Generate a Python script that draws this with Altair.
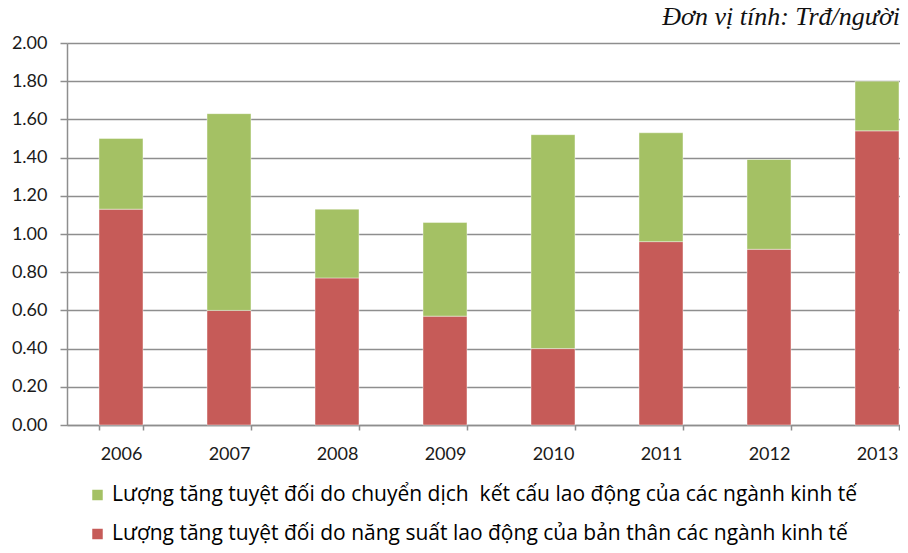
import altair as alt
import pandas as pd

years = ["2006", "2007", "2008", "2009", "2010", "2011", "2012", "2013"]
red_vals = [1.13, 0.60, 0.77, 0.57, 0.40, 0.96, 0.92, 1.54]
green_vals = [0.37, 1.03, 0.36, 0.49, 1.12, 0.57, 0.47, 0.26]
series = [
    "Lượng tăng tuyệt đối do chuyển dịch\u00a0 kết cấu lao động của các ngành kinh tế",
    "Lượng tăng tuyệt đối do năng suất lao động của bản thân các ngành kinh tế",
]
colors = ["#A4C164", "#C65B58"]
y_ticks = [0.0, 0.2, 0.4, 0.6, 0.8, 1.0, 1.2, 1.4, 1.6, 1.8, 2.0]
unit_text = ["Đơn vị tính: Trđ/người"]

rows = []
for i, yr in enumerate(years):
    rows.append({"year": yr, "value": red_vals[i], "series": series[1], "ord": 0})
    rows.append({"year": yr, "value": green_vals[i], "series": series[0], "ord": 1})
df = pd.DataFrame(rows)

grid_col = "#8E8E8E"

bars = alt.Chart(df).mark_bar(stroke="#ffffff", strokeWidth=0.8, strokeOpacity=0.5).encode(
    x=alt.X(
        "year:N",
        sort=years,
        scale=alt.Scale(range=[0, 864], paddingInner=0.593, paddingOuter=0.2965),
        axis=alt.Axis(
            title=None, labelAngle=0, tickBand="extent", grid=False,
            domainColor=grid_col, domainWidth=1.5, tickColor=grid_col, tickWidth=1.5,
            tickSize=5, labelPadding=15, labelFont="Lato", labelFontSize=18,
            labelColor="#1a1a1a",
        ),
    ),
    y=alt.Y(
        "value:Q",
        stack="zero",
        scale=alt.Scale(domain=[0, 2], nice=False),
        axis=alt.Axis(
            title=None, values=y_ticks, format=".2f", grid=True, gridColor=grid_col,
            gridWidth=1.5, domainColor=grid_col, domainWidth=1.5, tickColor=grid_col,
            tickWidth=1.5, tickSize=7, labelPadding=13, labelFont="Lato",
            labelFontSize=18, labelColor="#1a1a1a",
        ),
    ),
    color=alt.Color(
        "series:N",
        scale=alt.Scale(domain=series, range=colors),
        legend=alt.Legend(
            title=None, orient="none", legendX=20, legendY=441.5, direction="vertical",
            symbolType="square", symbolSize=110, symbolStrokeWidth=0,
            labelFont="Open Sans", labelFontSize=21, labelLimit=0,
            rowPadding=17, labelOffset=4, padding=0, labelColor="#000000",
        ),
    ),
    order=alt.Order("ord:Q", sort="ascending"),
)

unit = alt.Chart(pd.DataFrame({"t": unit_text})).mark_text(
    align="right", baseline="alphabetic", font="Liberation Serif", fontStyle="italic",
    fontSize=26, color="#111111",
).encode(text="t:N", x=alt.value(833), y=alt.value(-18))

chart = alt.layer(bars, unit).properties(
    width=833,
    height=382,
    autosize=alt.AutoSizeParams(type="none"),
    padding={"left": 59, "top": 35, "right": 0, "bottom": 120},
).configure_view(stroke=None)

chart.save("out.html", embed_options={"renderer": "svg", "actions": False})
